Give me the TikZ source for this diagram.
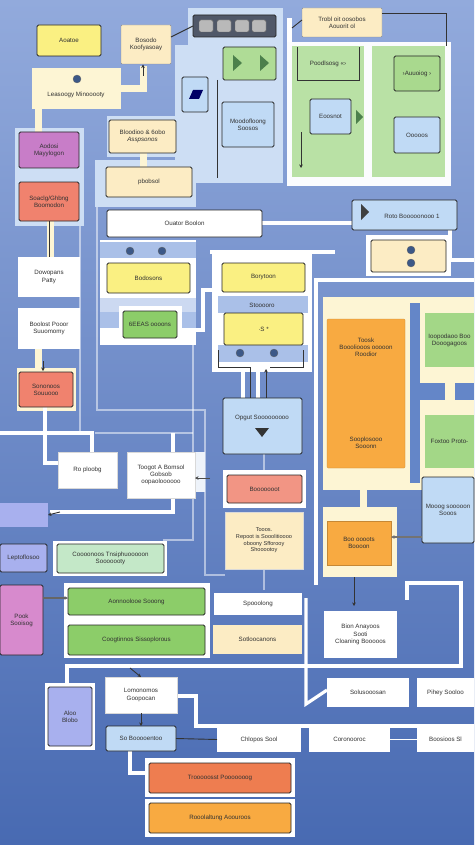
\documentclass[tikz,border=0pt]{standalone}
\usepackage{fontspec}
\setmainfont{Liberation Sans}
\usetikzlibrary{arrows.meta}
\definecolor{bgtop}{RGB}{146,170,220}
\definecolor{bgbot}{RGB}{72,106,178}
\definecolor{cyel}{RGB}{250,240,130}
\definecolor{ccream}{RGB}{252,236,196}
\definecolor{cpale}{RGB}{253,245,212}
\definecolor{cpurp}{RGB}{200,125,200}
\definecolor{csalm}{RGB}{240,130,110}
\definecolor{cgreen}{RGB}{140,205,105}
\definecolor{clgreen}{RGB}{196,232,200}
\definecolor{clblue}{RGB}{192,218,245}
\definecolor{clav}{RGB}{168,176,238}
\definecolor{cpink}{RGB}{215,138,205}
\definecolor{corg}{RGB}{248,170,65}
\definecolor{cred}{RGB}{238,125,80}
\definecolor{cpanel}{RGB}{205,222,244}
\definecolor{cband}{RGB}{170,192,232}
\definecolor{cgpanel}{RGB}{185,225,165}
\definecolor{cstrip}{RGB}{100,134,200}
\definecolor{ctext}{RGB}{50,50,50}
\definecolor{dotblue}{RGB}{60,88,135}
\definecolor{toolgray}{RGB}{80,88,104}
\tikzset{
  base/.style={inner sep=0pt,outer sep=0pt,align=center,text=ctext,font=\fontsize{6.2}{7.2}\selectfont},
  bx/.style={base,draw=black!85,line width=0.9pt,rounded corners=1.6pt},
  tb/.style={base,draw=black!45,line width=0.4pt,rounded corners=1pt},
  nb/.style={base},
  wline/.style={white,line width=3.2pt},
  pline/.style={white,opacity=0.5,line width=1.6pt},
  cline/.style={cpale,line width=7pt},
  dline/.style={black!80,line width=0.9pt},
  darr/.style={dline,-{Stealth[length=3.5pt,width=3.5pt]}},
  dotc/.style={circle,fill=dotblue,draw=black!60,line width=0.3pt,minimum size=8pt,inner sep=0pt},
}
\newcommand\mybox[7]{\node[#6,minimum width={(#4-#2)*1pt},minimum height={(#5-#3)*1pt}] (#1) at ({(#2+#4)/2},{(#3+#5)/2}) {#7};}
\begin{document}
\begin{tikzpicture}[x=1pt,y=-1pt]
\useasboundingbox (0,0) rectangle (474,845);
\fill[top color=bgtop,bottom color=bgbot] (0,0) rectangle (474,845);

% pale thin lines
\draw[pline] (97,205) -- (97,410) -- (205,410) -- (205,425);
\draw[pline] (193,340) -- (193,540) -- (163,540);
\draw[pline] (95,433) -- (193,433);
\draw[pline] (80,222) -- (80,433);
\draw[pline] (205,425) -- (205,575) -- (225,575);
\draw[pline] (264,454) -- (264,475);
\draw[pline] (264,569) -- (264,590);

% panels
\fill[cpanel] (175,45) rectangle (283,183);
\fill[cpanel] (188,8) rectangle (283,45);
\fill[white!92!cpanel] (287,42) rectangle (451,186);
\fill[white] (287,18) rectangle (292,42);
\fill[cgpanel] (292,46) rectangle (364,177);
\fill[cgpanel] (372,46) rectangle (445,177);
\fill[cpanel] (15,128) rectangle (84,226);
\fill[cpale] (17,368) rectangle (76,411);
\fill[cpanel] (95,160) rectangle (196,207);
\fill[cpanel] (107,116) rectangle (178,157);
\fill[white] (100,240) rectangle (196,345);
\fill[cband] (100,242) rectangle (196,258);
\fill[cband!60!white] (100,298) rectangle (196,312);
\fill[cband] (100,312) rectangle (196,328);
\fill[white] (119,306) rectangle (182,344);
\fill[white] (212,252) rectangle (312,372);
\fill[cband] (218,296) rectangle (308,313);
\fill[cband] (218,345) rectangle (308,362);
\fill[cpale] (323,297) rectangle (474,490);
\fill[cstrip] (410,303) rectangle (420,483);
\fill[cstrip] (420,383) rectangle (445,400);
\fill[cstrip] (455,383) rectangle (474,400);
\fill[cpale] (323,507) rectangle (397,577);
\fill[white] (366,235) rectangle (451,276);
\fill[white] (53,541) rectangle (167,576);
\fill[white] (64,583) rectangle (210,658);
\fill[white] (45,683) rectangle (95,750);
\fill[white] (145,758) rectangle (295,797);
\fill[white] (145,799) rectangle (295,837);
\fill[white] (223,470) rectangle (306,508);
\fill[white!80!cband] (195,452) rectangle (205,492);

% white connectors
\draw[wline] (0,433) -- (92,433) -- (92,452);
\draw[wline] (45,407) -- (45,463) -- (58,463);
\draw[wline] (50,512) -- (173,512) -- (173,433);
\draw[wline] (181,330) -- (203,330) -- (203,290) -- (213,290);
\draw[wline] (210,252) -- (335,252);
\draw[wline] (262,223) -- (352,223);
\draw[wline] (316,585) -- (316,280) -- (474,280);
\draw[wline] (450,230) -- (450,260) -- (474,260);
\draw[wline] (67,684) -- (67,666) -- (461,666) -- (461,583) -- (407,583) -- (407,600);
\draw[wline] (306,598) -- (306,704) -- (327,690);
\draw[wline] (177,696) -- (196,696) -- (196,726) -- (474,726);
\draw[wline] (130,751) -- (130,773) -- (148,773);
\draw[wline] (243,362) -- (243,398);
\draw[wline] (258,362) -- (258,398);

% cream connectors
\draw[cline] (121,89) -- (143,89) -- (143,66);
\draw[cline] (38,108) -- (38,132);
\draw[cline] (50,221) -- (50,257);
\draw[cline] (38,349) -- (38,372);
\draw[cline] (143,153) -- (143,167);
\draw[cline] (363,490) -- (363,507);

% left column
\mybox{aoa}{37}{25}{101}{56}{bx,fill=cyel}{Aoatoe}
\mybox{bos}{121}{25}{171}{64}{tb,fill=ccream}{Bosodo\\Koofyasoay}
\mybox{les}{32}{68}{121}{109}{nb,fill=cpale}{}
\node[base] (lestxt) at (76,95) {Leasoogy Minooooty};
\node[dotc] (ld) at (77,79) {};
\mybox{aod}{19}{132}{79}{168}{bx,fill=cpurp}{Aodosi\\Mayylogon}
\mybox{soa}{19}{182}{79}{221}{bx,fill=csalm}{Soaclg/Ghbng\\Boomodon}
\mybox{dow}{18}{257}{80}{297}{nb,fill=white}{Dowopans\\Patty}
\mybox{bol}{18}{308}{80}{349}{nb,fill=white}{Boolost Pooor\\Suuomomy}
\mybox{son}{19}{372}{73}{407}{bx,fill=csalm}{Sononoos\\Souuooo}
\mybox{rop}{58}{452}{117}{488}{nb,fill=white,draw=black!15}{Ro ploobg}
\mybox{tog}{127}{452}{195}{498}{nb,fill=white,draw=black!15}{Toogot A Bomsol\\Gobsob\\oopaoloooooo}
\mybox{lav}{0}{503}{48}{527}{nb,fill=clav}{}
\mybox{lep}{0}{544}{47}{572}{bx,fill=clav}{Leptoflosoo}
\mybox{coo}{57}{544}{164}{573}{bx,fill=clgreen}{Coooonoos Tnsiphuooooon\\Sooooooty}
\mybox{pook}{0}{585}{43}{655}{bx,fill=cpink}{Pook\\Sooisog}
\mybox{aon}{68}{588}{205}{615}{bx,fill=cgreen}{Aonnoolooe Sooong}
\mybox{cog}{68}{625}{205}{655}{bx,fill=cgreen}{Coogtinnos Sissoplorous}
\mybox{spo}{214}{593}{302}{615}{nb,fill=white}{Spooolong}
\mybox{sot}{213}{625}{302}{654}{nb,fill=ccream}{Sotloocanons}

% bottom
\mybox{alo}{48}{687}{92}{746}{bx,fill=clav}{Aloo\\Blobo}
\mybox{lom}{105}{677}{177}{713}{nb,fill=white,draw=black!15}{Lomonomos\\Goopocan}
\mybox{sob}{106}{726}{176}{751}{bx,fill=clblue}{So Booooentoo}
\mybox{chl}{217}{727}{301}{752}{nb,fill=white}{Chlopos Sool}
\mybox{cor}{309}{727}{390}{752}{nb,fill=white}{Coronooroc}
\mybox{bsi}{417}{727}{474}{752}{nb,fill=white}{Boosioos Sl}
\mybox{tro}{149}{763}{291}{793}{bx,fill=cred}{Trooooosst Pooooooog}
\mybox{roo}{149}{803}{291}{833}{bx,fill=corg}{Rooolaltung Aoouroos}
\mybox{bio}{324}{611}{397}{658}{nb,fill=white}{Bion Anayoos\\Sooti\\Cloaning Booooos}
\mybox{sol}{327}{678}{409}{707}{nb,fill=white}{Solusooosan}
\mybox{pih}{417}{678}{474}{707}{nb,fill=white}{Pihey Sooloo}

% right middle
\mybox{tsk}{327}{319}{405}{468}{nb,fill=corg,draw=corg!80!black,line width=0.3pt,rounded corners=1pt}{}
\node[base] (tsk1) at (366,347) {Toosk\\Boooliooos ooooon\\Roodior};
\node[base] (tsk2) at (366,443) {Sooplosooo\\Sooonn};
\mybox{iop}{425}{313}{474}{367}{nb,fill=cgreen!80!white}{Ioopodaoo Boo\\Dooogagoos}
\mybox{fox}{425}{415}{474}{468}{nb,fill=cgreen!80!white}{Foxtoo Proto-}
\mybox{moo}{422}{477}{474}{543}{bx,fill=clblue}{Mooog sooooon\\Sooos}
\mybox{bcs}{327}{521}{391}{565}{nb,fill=corg,draw=corg!80!black,line width=0.3pt}{Boo oooots\\Boooon}

% center
\mybox{oua}{107}{210}{262}{237}{bx,fill=white}{Ouator Boolon}
\mybox{rot}{352}{200}{457}{230}{bx,fill=clblue}{}
\node[base] (rottxt) at (412,216) {Roto Booooonooo 1};
\fill[black!75] (361,204) -- (369,212) -- (361,220) -- cycle;
\mybox{dbx}{371}{240}{446}{272}{bx,fill=ccream}{}
\node[dotc] (dd1) at (411,250) {};
\node[dotc] (dd2) at (411,263) {};
\node[dotc] (bd1) at (130,251) {};
\node[dotc] (bd2) at (162,251) {};
\mybox{bod}{107}{263}{190}{293}{bx,fill=cyel}{Bodosons}
\mybox{gee}{123}{311}{177}{338}{bx,fill=cgreen}{6EEAS oooons}
\mybox{bor}{222}{263}{305}{292}{bx,fill=cyel}{Borytoon}
\node[base] (stt) at (262,305) {Stooooro};
\mybox{sst}{224}{313}{303}{345}{bx,fill=cyel}{·S *}
\node[dotc] (sd1) at (240,353) {};
\node[dotc] (sd2) at (274,353) {};
\draw[dline] (218,350) -- (218,367) -- (250,367) -- (250,398);
\draw[dline] (303,350) -- (303,367) -- (270,367);
\draw[darr] (266,398) -- (266,369);
\mybox{opg}{223}{398}{302}{454}{bx,fill=clblue}{}
\node[base] (opgtxt) at (262,418) {Opgut Sooooooooo};
\fill[black!80] (255,428) -- (269,428) -- (262,437) -- cycle;
\mybox{bot}{227}{475}{302}{503}{bx,fill=csalm!85!white}{Booooooot}
\mybox{tes}{225}{512}{303}{569}{nb,fill=ccream,draw=black!15,font=\fontsize{5.6}{6.6}\selectfont}{Tooos.\\Repoot is Sooolitioooo\\oboony Sfforooy\\Shooootoy}
\mybox{blo}{109}{120}{176}{153}{bx,fill=ccream}{Bloodioo \& 6obo\\\textit{Asspsonos}}
\mybox{pbo}{106}{167}{192}{197}{bx,fill=ccream}{pbobsol}

% top center
\mybox{tlb}{193}{15}{276}{37}{bx,fill=toolgray}{}
\foreach \a in {199,217,235,252} \fill[gray!55,draw=black!60,rounded corners=1.5pt] (\a,20) rectangle ++(14,12);
\mybox{grn}{223}{47}{276}{80}{bx,fill=cgreen!70!white}{}
\fill[black!50!green!40!gray] (233,55) -- (242,63) -- (233,71) -- cycle;
\fill[black!50!green!40!gray] (260,55) -- (269,63) -- (260,71) -- cycle;
\mybox{sbl}{182}{77}{208}{112}{bx,fill=clblue}{}
\fill[black!60!blue] (189,99) -- (193,90) -- (203,90) -- (199,99) -- cycle;
\draw[dline] (217,80) -- (217,178);
\mybox{mod}{222}{102}{274}{147}{bx,fill=clblue}{Moodofloong\\Soosos}
\mybox{trb}{302}{8}{382}{37}{tb,fill=ccream}{Trobl oit oosobos\\Aouorit ol}
\mybox{poo}{297}{47}{359}{80}{nb}{Poodlsosg «›}
\draw[dline] (297,47) -- (297,80) -- (359,80) -- (359,47);
\mybox{eoo}{310}{99}{351}{134}{bx,fill=clblue}{Eoosnot}
\fill[black!50!green!40!gray] (356,110) -- (363,117) -- (356,124) -- cycle;
\mybox{auu}{394}{56}{440}{91}{bx,fill=cgreen!75!white}{›Auuoiog ›}
\mybox{ooo}{394}{117}{440}{153}{bx,fill=clblue}{Ooooos}

% dark connectors
\draw[dline] (171,37) -- (tlb.west);
\draw[dline] (trb.east |- 0,13) -- (446,13) -- (446,46);
\draw[dline] (292,28) -- (302,20);
\draw[darr] (301,132) -- (301,168);
\draw[darr] (143,76) -- (143,64.5);
\draw[dline] (soa.south) -- (dow.north);
\draw[darr] (43,361) -- (43,371);
\draw[darr] (60,512) -- (lav.east);
\draw[darr,black!70] (210,478) -- (tog.east |- 0,478);
\draw[darr,black!60,line width=1.4pt] (pook.east |- 0,598) -- (aon.west |- 0,598);
\draw[darr] (130,668) -- (lom.north);
\draw[darr] (lom.south) -- (sob.north);
\draw[dline] (sob.east) -- (chl.west);
\draw[white,line width=0.6pt] (cor.east) -- (bsi.west);
\draw[darr] (354,577) -- (354,606);
\draw[darr,black!55,line width=1.5pt] (moo.west |- 0,537) -- (bcs.east |- 0,537);
\end{tikzpicture}
\end{document}
